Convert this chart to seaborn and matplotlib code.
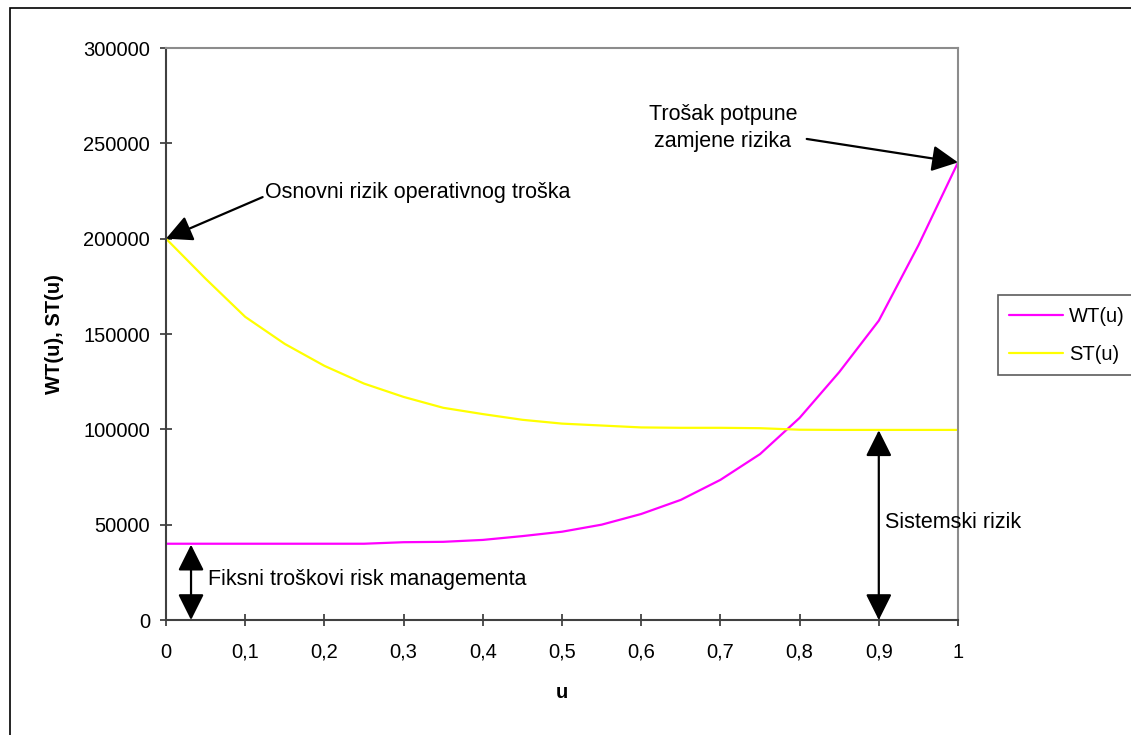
import matplotlib
matplotlib.use("Agg")
import matplotlib.pyplot as plt
import seaborn as sns
import pandas as pd
from matplotlib.patches import Rectangle
from matplotlib.lines import Line2D

# ---- data ----
u = [0.0, 0.05, 0.1, 0.15, 0.2, 0.25, 0.3, 0.35, 0.4, 0.45, 0.5,
     0.55, 0.6, 0.65, 0.7, 0.75, 0.8, 0.85, 0.9, 0.95, 1.0]
wt = [40000, 40000, 40000, 40000, 40000, 40000, 40800, 41000, 42000, 44000, 46300,
      50000, 55600, 63000, 73500, 87000, 106000, 130000, 157000, 196500, 240000]
st = [200000, 179000, 159000, 144800, 133300, 124000, 117000, 111300, 108000, 105000, 103000,
      102000, 101000, 100800, 100800, 100600, 99800, 99700, 99700, 99700, 99700]
series_names = ["WT(u)", "ST(u)"]
series_colors = ["#FF00FF", "#FFFF00"]
x_ticks = [0, 0.1, 0.2, 0.3, 0.4, 0.5, 0.6, 0.7, 0.8, 0.9, 1.0]
x_ticklabels = ["0", "0,1", "0,2", "0,3", "0,4", "0,5", "0,6", "0,7", "0,8", "0,9", "1"]
y_ticks = [0, 50000, 100000, 150000, 200000, 250000, 300000]

df = pd.concat([
    pd.DataFrame({"u": u, "value": wt, "series": series_names[0]}),
    pd.DataFrame({"u": u, "value": st, "series": series_names[1]}),
])

sns.set_style("white")
plt.rcParams["font.family"] = ["Liberation Sans", "DejaVu Sans"]
plt.rcParams["text.color"] = "black"
plt.rcParams["axes.labelcolor"] = "black"
plt.rcParams["xtick.color"] = "black"
plt.rcParams["ytick.color"] = "black"

W, H = 1131, 735
fig = plt.figure(figsize=(W / 100, H / 100), dpi=100)
ax = fig.add_axes([166 / W, 1 - 620 / H, (958 - 166) / W, (620 - 48) / H])

sns.lineplot(data=df, x="u", y="value", hue="series",
             palette=dict(zip(series_names, series_colors)),
             linewidth=1.6, ax=ax, legend=False)

ax.set_xlim(0, 1)
ax.set_ylim(0, 300000)
ax.set_xticks(x_ticks)
ax.set_xticklabels(x_ticklabels)
ax.set_yticks(y_ticks)
ax.set_yticklabels([str(v) for v in y_ticks])
ax.tick_params(axis="both", which="major", bottom=True, left=True,
               direction="inout", length=9, width=1.2,
               color="#333333", labelcolor="black", labelsize=14.5, pad=7)
ax.tick_params(axis="x", pad=12)
ax.set_xlabel("u", fontsize=14.5, fontweight="bold", labelpad=15)
ax.set_ylabel("WT(u), ST(u)", fontsize=14.5, fontweight="bold", labelpad=14)

for side in ["left", "bottom"]:
    ax.spines[side].set_color("#404040")
    ax.spines[side].set_linewidth(1.5)
for side in ["top", "right"]:
    ax.spines[side].set_color("#8c8c8c")
    ax.spines[side].set_linewidth(1.5)
    ax.spines[side].set_visible(True)

arrow_kw = dict(arrowstyle="-|>", mutation_scale=40, lw=1.6, color="black",
                shrinkA=0, shrinkB=0)
dbl_kw = dict(arrowstyle="<|-|>", mutation_scale=40, lw=1.6, color="black",
              shrinkA=0, shrinkB=0)

fs_ann = 15.5

# annotation 1
ax.text(0.125, 224000, "Osnovni rizik operativnog troška", fontsize=fs_ann,
        ha="left", va="center")
ax.annotate("", xy=(0, 200000), xytext=(0.122, 221800), arrowprops=arrow_kw)

# annotation 2
ax.text(0.703, 258000, "Trošak potpune\nzamjene rizika", fontsize=fs_ann,
        ha="center", va="center", linespacing=1.35)
ax.annotate("", xy=(1, 240000), xytext=(0.809, 252300), arrowprops=arrow_kw)

# annotation 3
ax.annotate("", xy=(0.0316, 39500), xytext=(0.0316, 0), arrowprops=dbl_kw)
ax.text(0.053, 21500, "Fiksni troškovi risk managementa", fontsize=fs_ann,
        ha="left", va="center")

# annotation 4
ax.annotate("", xy=(0.9, 99500), xytext=(0.9, 0), arrowprops=dbl_kw)
ax.text(0.908, 51000, "Sistemski rizik", fontsize=fs_ann, ha="left", va="center")

# legend
handles = [Line2D([], [], color=c, lw=1.6) for c in series_colors]
leg = fig.legend(handles, series_names, loc="upper left",
                 bbox_to_anchor=(997.5 / W, 1 - 295.5 / H), fontsize=14.5,
                 frameon=True, fancybox=False, edgecolor="#333333",
                 handlelength=2.7, handletextpad=0.3, labelspacing=0.95,
                 borderpad=0.55, borderaxespad=0)
leg.get_frame().set_linewidth(1.2)

# outer chart border
fig.patches.append(Rectangle((9.5 / W, -0.05), 1.2, 1 - 7.5 / H + 0.05,
                             transform=fig.transFigure, fill=False,
                             edgecolor="black", lw=1.2))

fig.savefig("out.png", dpi=100, facecolor="white")
